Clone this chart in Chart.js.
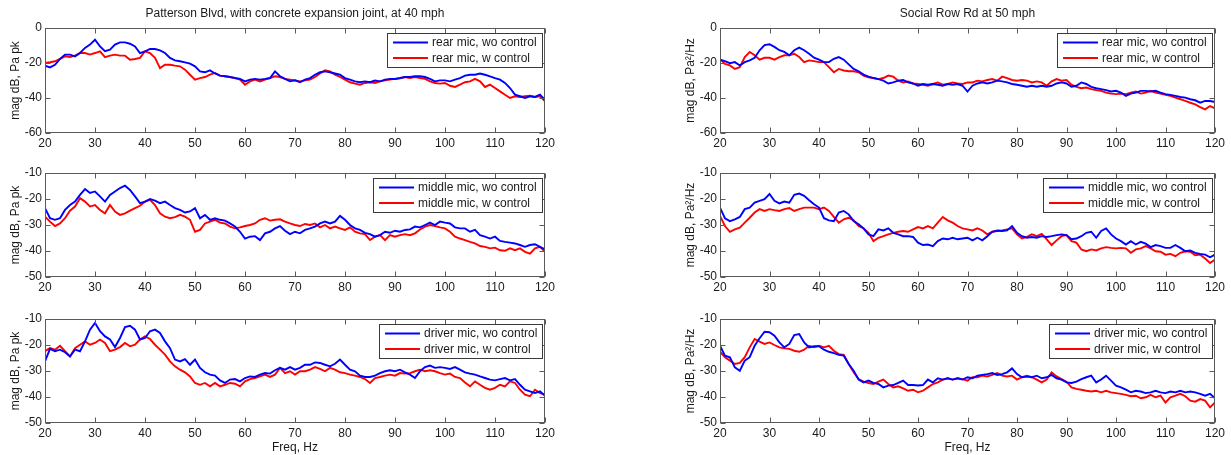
<!DOCTYPE html>
<html>
<head>
<meta charset="utf-8">
<title>Mic spectra, with and without control</title>
<script src="https://cdn.jsdelivr.net/npm/chart.js@4.4.1/dist/chart.umd.min.js"></script>
<style>
  html, body { margin: 0; padding: 0; background: #fff; }
  body { width: 1231px; height: 455px; position: relative; overflow: hidden; }
  .panel { position: absolute; }
</style>
</head>
<body>
<script>
// ─── Data (dB values, 1 Hz steps) ────────────────────────────────────────────

const FREQ_HZ = [
  20, 21, 22, 23, 24, 25, 26, 27, 28, 29, 30, 31, 32, 33, 34, 35, 36, 37, 38, 39,
  40, 41, 42, 43, 44, 45, 46, 47, 48, 49, 50, 51, 52, 53, 54, 55, 56, 57, 58, 59,
  60, 61, 62, 63, 64, 65, 66, 67, 68, 69, 70, 71, 72, 73, 74, 75, 76, 77, 78, 79,
  80, 81, 82, 83, 84, 85, 86, 87, 88, 89, 90, 91, 92, 93, 94, 95, 96, 97, 98, 99,
  100, 101, 102, 103, 104, 105, 106, 107, 108, 109, 110, 111, 112, 113, 114, 115, 116, 117, 118, 119, 120
];

const TITLE_LEFT  = 'Patterson Blvd, with concrete expansion joint, at 40 mph';
const TITLE_RIGHT = 'Social Row Rd at 50 mph';
const YLABEL_LEFT  = 'mag dB, Pa pk';
const YLABEL_RIGHT = 'mag dB, Pa\u00B2/Hz';
const XLABEL = 'Freq, Hz';

const NAMES_REAR   = ['rear mic, wo control', 'rear mic, w control'];
const NAMES_MIDDLE = ['middle mic, wo control', 'middle mic, w control'];
const NAMES_DRIVER = ['driver mic, wo control', 'driver mic, w control'];

// Patterson Blvd, 40 mph
const TL_BLUE = [
  -21.5, -22.5, -21, -17.7, -15.2, -15.2, -16.2, -14.3, -11.4, -9.5,
  -6.7, -10.5, -13.3, -12.4, -9.5, -8.2, -8.2, -9, -10.5, -14.3,
  -13.3, -12, -12, -12.8, -14.3, -17.1, -18.5, -19, -19.6, -20.4,
  -21.9, -24.8, -25.3, -24.2, -26, -27.2, -27.6, -28, -28.6, -29.1,
  -30.5, -29.5, -29.1, -29.5, -29.1, -28.6, -24.8, -27.6, -29.1, -30.5,
  -29.9, -31, -29.5, -28.6, -26.7, -25.3, -24.8, -25.3, -26, -26.7,
  -28.6, -29.5, -30.5, -31, -30.5, -31, -30, -30.5, -29.5, -29.1,
  -29.1, -28.6, -28, -28, -27.6, -27.6, -28, -29.1, -30.5, -29.9,
  -29.9, -30.5, -29.5, -28.6, -27.2, -26.7, -26.7, -26, -26.7, -27.6,
  -28.6, -29.5, -31.4, -34.3, -38.1, -39, -40, -39, -39.4, -38.1, -41
];
const TL_RED = [
  -20, -19.6, -19, -17.7, -16.2, -16.6, -15.8, -14.3, -14.3, -15.2,
  -14.3, -13.3, -16.6, -15.8, -15.2, -15.8, -15.8, -18.1, -17.7, -17.1,
  -13.3, -14.3, -17.1, -22.9, -21, -21, -21.5, -21.9, -23.8, -26.7,
  -29.5, -28.6, -28, -26.7, -25.7, -27.2, -27.6, -28, -28.6, -29.5,
  -32.4, -30.5, -29.5, -30.5, -29.5, -28.6, -27.6, -28, -29.1, -29.5,
  -29.9, -30.5, -29.9, -29.5, -28, -26, -24.2, -24.8, -26.7, -28,
  -29.5, -31, -31.8, -32.4, -31.4, -31, -31.4, -30.5, -29.9, -29.5,
  -29.1, -28.8, -28, -28.6, -28, -28.6, -29.1, -30.5, -31.4, -31.8,
  -31.4, -33, -33.7, -32.4, -31, -30.5, -29.1, -30.5, -33.7, -32.4,
  -34.3, -36.2, -38.1, -40, -39, -39.4, -39, -38.7, -39.4, -39, -41.9
];
const ML_BLUE = [
  -23.5, -27.4, -28, -27.4, -24.2, -22.3, -21, -18.4, -16.2, -17.7,
  -17.1, -19, -21, -18.4, -17.1, -15.8, -14.9, -16.5, -19, -21.6,
  -21, -20, -20.6, -21.6, -21, -22.3, -23.5, -24.2, -25.2, -24.8,
  -23.5, -27.4, -26.1, -28, -27.4, -28, -28.3, -29.4, -30.6, -32.6,
  -35.2, -34.5, -34.3, -35.8, -33.2, -32.6, -31.3, -30.4, -32.2, -33.5,
  -32.6, -33.2, -31.9, -31.3, -30.6, -29.4, -28.7, -29.4, -28.7, -26.5,
  -28, -30, -31.3, -31.9, -33, -33.5, -34.5, -33.9, -32.6, -33,
  -32.2, -32.6, -31.9, -31.7, -30.6, -30.9, -30, -29.1, -30, -28.7,
  -29.1, -29.4, -30.9, -31.3, -31.3, -32.6, -31.9, -33.9, -34.5, -35.2,
  -34.5, -36.1, -36.5, -36.8, -37.1, -37.7, -38.4, -37.7, -37.4, -38.4, -39.4
];
const ML_RED = [
  -26.8, -28.7, -30.4, -29.4, -27.4, -24.5, -22.9, -19.7, -21, -22.9,
  -22.3, -24.2, -25.5, -22.3, -24.8, -26.1, -25.5, -24.5, -23.5, -22.6,
  -21, -20.3, -22.3, -25.5, -26.8, -27.4, -27, -26.1, -26.8, -28,
  -32.6, -31.9, -29.4, -28.7, -28, -29.1, -29.4, -30.6, -31.3, -30.9,
  -30.4, -30, -29.4, -28, -27.4, -28.3, -28, -27.8, -28.7, -29.4,
  -30, -30.4, -29.6, -30, -29.4, -30.9, -30, -31.3, -30.6, -31.3,
  -31.9, -30.9, -32.6, -33.2, -33.5, -35.8, -34.5, -33.9, -35.8, -33.9,
  -34.5, -33.9, -33.5, -33.9, -33.2, -31.7, -30.6, -30, -30.4, -30.9,
  -31.3, -32.6, -34.5, -35.2, -35.8, -36.5, -37.1, -38.1, -38.4, -39,
  -38.7, -39.7, -39.9, -39, -39.7, -39, -40.3, -41, -39, -38.4, -40.3
];
const BL_BLUE = [
  -26.3, -21.5, -22.4, -21.8, -22.8, -24.4, -21.8, -22.4, -18.6, -14.1,
  -11.5, -14.7, -16.7, -17.9, -20.8, -17.3, -13.1, -12.6, -14.1, -17.9,
  -17.3, -14.7, -14.1, -15.4, -18.6, -21.2, -25.6, -26.3, -25.4, -27.6,
  -25.6, -28.8, -30.5, -31.4, -31.8, -33.6, -34.6, -33.3, -33.1, -34,
  -32.7, -32.1, -32.3, -31.4, -30.8, -31, -29.7, -28.8, -29.5, -28.5,
  -29.5, -28.8, -27.6, -27.6, -26.7, -26.9, -27.6, -28.2, -27.2, -25.6,
  -27.6, -29.5, -30.1, -31.8, -32.3, -32.3, -31.8, -30.8, -30.1, -29.7,
  -30.1, -29.5, -30.5, -31.4, -32.7, -30.1, -28.5, -27.9, -28.8, -28.5,
  -28.8, -29.2, -28.5, -29.5, -30.5, -31, -31.4, -32.1, -32.7, -33.3,
  -33.6, -33.1, -32.7, -33.6, -33.1, -35.3, -37.2, -37.8, -38.5, -37.8, -39.5
];
const BL_RED = [
  -22.4, -21.2, -21.8, -20.3, -22.4, -24.4, -21.2, -19.9, -18.6, -19.9,
  -19.2, -17.9, -19.2, -22.4, -21.8, -20.8, -19.2, -20.5, -19.9, -17.9,
  -16.7, -17.7, -19.9, -21.8, -23.7, -26.3, -28.2, -29.5, -30.5, -32.1,
  -34.6, -35.3, -34.6, -35.9, -34.6, -35.9, -35.3, -34.6, -34.9, -35.9,
  -34, -33.1, -32.7, -32.1, -31.4, -32.3, -31.4, -28.8, -30.8, -30.1,
  -31.4, -30.1, -30.1, -29.5, -28.5, -29.2, -30.1, -28.8, -29.5, -30.5,
  -30.8, -31.4, -31.8, -32.3, -33.1, -34.6, -32.7, -32.3, -31.8, -31.4,
  -31.8, -30.8, -31, -30.8, -30.1, -29.5, -30.1, -29.7, -30.1, -30.8,
  -31.4, -31, -32.3, -32.7, -34.4, -35.9, -34, -35.3, -36.5, -37.2,
  -36.5, -35.3, -35.9, -34, -34.6, -37.2, -39.1, -39.7, -37.2, -38.5, -39.1
];

// Social Row Rd, 50 mph
const TR_BLUE = [
  -18.1, -18.9, -20.1, -19.5, -21.4, -19.5, -18.5, -17, -12.7, -9.8,
  -9.3, -10.8, -12.7, -13.7, -15.6, -12.7, -11.2, -12.7, -14.7, -17,
  -18.1, -19.5, -19.5, -17.6, -16.6, -18.1, -20.8, -23.4, -24.7, -26.6,
  -27.8, -28.6, -29.2, -30.1, -31.7, -31.1, -30.1, -29.7, -31.1, -31.7,
  -33, -32, -32.4, -32, -32.4, -33, -32, -32.4, -32, -33,
  -36.3, -33, -31.7, -31.1, -31.7, -31.1, -30.1, -30.5, -31.1, -32,
  -32.4, -33, -33.6, -33, -33.6, -33, -33.6, -33, -31.7, -31.1,
  -31.7, -33.6, -33, -31.1, -32, -33.6, -34.4, -34.9, -35.5, -36.3,
  -35.9, -36.9, -38.8, -37.5, -36.9, -35.9, -35.9, -36.3, -35.9, -36.9,
  -37.8, -38.2, -38.8, -39.4, -39.8, -40.7, -41.3, -42.7, -41.7, -41.7, -42.3
];
const TR_RED = [
  -17.6, -20.5, -21.4, -23.4, -22.4, -16.6, -13.7, -15.6, -18.1, -17,
  -17, -18.1, -16.6, -15.6, -15.6, -14.7, -16.6, -19.5, -18.5, -18.9,
  -19.5, -19.5, -22.4, -25.3, -23.4, -24.3, -24.7, -24.7, -25.3, -27.2,
  -28.2, -28.6, -29.2, -28.6, -27.2, -27.8, -30.1, -31.1, -30.5, -31.7,
  -32, -32.4, -33, -32, -31.1, -32.4, -32, -31.1, -31.7, -32,
  -31.1, -31.1, -30.1, -30.5, -29.7, -29.2, -30.1, -27.8, -28.6, -29.7,
  -30.1, -29.7, -30.1, -31.1, -30.5, -31.1, -33, -30.5, -29.2, -30.1,
  -29.7, -32.4, -33.6, -34.4, -34, -34.9, -35.5, -35.9, -36.9, -37.5,
  -37.8, -37.5, -37.8, -36.9, -36.3, -37.5, -36.9, -35.9, -36.9, -37.5,
  -38.2, -38.8, -39.8, -40.7, -41.7, -42.7, -43.6, -45.2, -46.5, -44.6, -45.9
];
const MR_BLUE = [
  -23.3, -27.4, -28.5, -27.8, -26.9, -23.9, -23.3, -21.4, -20.7, -20.1,
  -18.1, -20.7, -21.7, -21, -21.4, -18.4, -17.9, -18.8, -20.5, -22,
  -23.3, -27.4, -28.2, -28.5, -25.2, -24.6, -25.9, -28.5, -29.7, -31.3,
  -33.6, -34.3, -31.7, -32.1, -31.3, -33, -33.6, -34.3, -34.3, -34.6,
  -36.8, -37.7, -37.5, -38.1, -36.2, -35.2, -35.5, -34.9, -35.5, -35.2,
  -34.9, -35.9, -34.9, -35.9, -34.3, -32.6, -32.1, -32.3, -32.1, -30.4,
  -33, -34.3, -34.9, -34.6, -34.9, -34.3, -34.6, -34.3, -33.9, -33.6,
  -33.9, -35.5, -35.2, -34.3, -33, -32.6, -34.9, -32.3, -31.3, -33.6,
  -35.2, -36.2, -37.5, -36.2, -37.5, -36.5, -37.2, -38.5, -37.7, -38.1,
  -38.8, -38.8, -37.7, -38.8, -40.1, -39.8, -40.7, -41.1, -41.4, -42.4, -41.4
];
const MR_RED = [
  -26.5, -30.4, -32.6, -31.7, -31, -29.1, -27.2, -25.2, -23.9, -24.6,
  -23.9, -24.3, -24.6, -23.9, -23.5, -24.6, -23.9, -23.3, -23.3, -23.3,
  -23.9, -23.3, -24.6, -26.9, -29.1, -27.8, -27.2, -28.2, -30.4, -31.3,
  -33, -36.2, -34.9, -34.3, -33.6, -33, -32.6, -32.3, -32.6, -31.7,
  -30.8, -31.3, -30.4, -31.3, -29.1, -26.9, -28.2, -29.1, -30.4, -31.3,
  -31.7, -32.1, -31.3, -32.1, -33.6, -32.6, -32.3, -32.1, -31.7, -31.3,
  -33.6, -35.2, -34.6, -33.6, -34.3, -33.4, -35.5, -37.7, -35.9, -34.3,
  -33.9, -36.2, -36.8, -39.4, -40.1, -39.4, -39.8, -39, -38.5, -38.8,
  -39, -38.8, -39, -40.7, -39.4, -39, -38.1, -39, -40.1, -40.3,
  -41.4, -41.1, -42, -40.7, -40.1, -40.3, -41.6, -41.4, -42.9, -44.6, -43.3
];
const BR_BLUE = [
  -20.3, -24.1, -24.7, -28.6, -29.9, -26, -24.7, -20.3, -17.4, -14.9,
  -15.1, -16.4, -19, -20.9, -19.6, -16.2, -15.8, -19, -20.9, -20.5,
  -20.5, -21.8, -22.6, -23.1, -23.8, -24.1, -27.3, -29.9, -33.3, -34.4,
  -33.7, -34.6, -35, -36.3, -35.6, -35.4, -34.6, -33.7, -35.4, -35.4,
  -35.6, -35.4, -33.3, -34.4, -32.8, -33.3, -32.8, -33.3, -32.8, -33.3,
  -32.4, -32.8, -31.8, -31.5, -31.2, -30.8, -31.5, -31.2, -30.5, -29,
  -31.2, -32.4, -32.1, -32.4, -31.8, -32.8, -32.4, -31.5, -32.8, -33.3,
  -34.4, -34.6, -34.1, -33.1, -32.4, -31.8, -34.4, -33.3, -31.8, -33.7,
  -35.6, -36.3, -37.2, -38.2, -37.6, -37.9, -38.5, -38.2, -37.6, -38.2,
  -38.5, -37.9, -38.2, -37.6, -38.2, -37.9, -38.2, -38.8, -39.5, -38.8, -40.5
];
const BR_RED = [
  -22.6, -24.7, -26, -27.3, -26.9, -24.7, -20.9, -17.7, -18.7, -19.6,
  -19, -20, -20.9, -21.3, -21.5, -22.2, -22.6, -21.8, -20.3, -20.9,
  -20.3, -20.9, -20.3, -22.2, -23.5, -23.8, -27.3, -30.5, -33.1, -34.1,
  -34.6, -35, -34.1, -33.3, -35, -36.3, -35.9, -36.7, -37.6, -37.2,
  -38.2, -37.6, -36.3, -35, -34.4, -33.3, -32.8, -33.3, -32.8, -33.1,
  -33.7, -32.4, -32.4, -31.8, -32.1, -31.5, -30.8, -31.8, -32.1, -31.8,
  -33.3, -32.4, -31.8, -32.4, -33.3, -34.4, -33.3, -30.5, -32.1, -33.1,
  -34.1, -36.3, -36.9, -37.2, -37.6, -37.9, -37.6, -38.2, -37.6, -38.2,
  -38.5, -38.8, -39.2, -39.7, -39.5, -40.5, -40.1, -39.2, -40.1, -39.5,
  -42.1, -40.1, -39.5, -38.8, -39.7, -41.4, -41.8, -40.8, -41.4, -44, -42.1
];

// ─── Style ───────────────────────────────────────────────────────────────────

const FONT_FAMILY = "'Liberation Sans', Arial, Helvetica, sans-serif";
const TEXT_COLOR  = '#1a1a1a';
const AXIS_COLOR  = '#5a5a5a';
const BLUE        = '#0000ff';
const RED         = '#ff0000';
const TICK_LEN    = 5;

// ─── Panel layout ────────────────────────────────────────────────────────────

const PANELS = [
  { left: 0,   top: 0,   width: 560, height: 153, padTop: 28, padRight: 15, title: TITLE_LEFT,  yLabel: YLABEL_LEFT,  yMin: -60, yMax: 0,   yStep: 20, xTitle: false, series: [TL_BLUE, TL_RED], names: NAMES_REAR },
  { left: 0,   top: 160, width: 560, height: 137, padTop: 13, padRight: 15, title: '',          yLabel: YLABEL_LEFT,  yMin: -50, yMax: -10, yStep: 10, xTitle: false, series: [ML_BLUE, ML_RED], names: NAMES_MIDDLE },
  { left: 0,   top: 306, width: 560, height: 149, padTop: 13, padRight: 15, title: '',          yLabel: YLABEL_LEFT,  yMin: -50, yMax: -10, yStep: 10, xTitle: true,  series: [BL_BLUE, BL_RED], names: NAMES_DRIVER },
  { left: 675, top: 0,   width: 556, height: 153, padTop: 28, padRight: 16, title: TITLE_RIGHT, yLabel: YLABEL_RIGHT, yMin: -60, yMax: 0,   yStep: 20, xTitle: false, series: [TR_BLUE, TR_RED], names: NAMES_REAR },
  { left: 675, top: 160, width: 556, height: 137, padTop: 13, padRight: 16, title: '',          yLabel: YLABEL_RIGHT, yMin: -50, yMax: -10, yStep: 10, xTitle: false, series: [MR_BLUE, MR_RED], names: NAMES_MIDDLE },
  { left: 675, top: 306, width: 556, height: 149, padTop: 13, padRight: 16, title: '',          yLabel: YLABEL_RIGHT, yMin: -50, yMax: -10, yStep: 10, xTitle: true,  series: [BR_BLUE, BR_RED], names: NAMES_DRIVER },
];

// ─── MATLAB-style axes: box, inward ticks, title, boxed legend ──────────────

const matlabAxes = {
  id: 'matlabAxes',
  afterDatasetsDraw(chart, args, opts) {
    const { ctx, chartArea: a } = chart;
    const xs = chart.scales.x, ys = chart.scales.y;
    ctx.save();

    // box + ticks on all four sides
    ctx.strokeStyle = AXIS_COLOR;
    ctx.lineWidth = 1;
    const L = Math.round(a.left) + 0.5, R = Math.round(a.right) - 0.5;
    const T = Math.round(a.top) + 0.5,  B = Math.round(a.bottom) - 0.5;
    ctx.strokeRect(L, T, R - L, B - T);
    ctx.beginPath();
    xs.ticks.forEach(t => {
      const px = Math.round(xs.getPixelForValue(t.value)) + 0.5;
      ctx.moveTo(px, B); ctx.lineTo(px, B - TICK_LEN);
      ctx.moveTo(px, T); ctx.lineTo(px, T + TICK_LEN);
    });
    ys.ticks.forEach(t => {
      const py = Math.round(ys.getPixelForValue(t.value)) + 0.5;
      ctx.moveTo(L, py); ctx.lineTo(L + TICK_LEN, py);
      ctx.moveTo(R, py); ctx.lineTo(R - TICK_LEN, py);
    });
    ctx.stroke();

    ctx.font = `12px ${FONT_FAMILY}`;
    ctx.fillStyle = TEXT_COLOR;

    // panel title, centred over the plot box
    if (opts.title) {
      ctx.textAlign = 'center';
      ctx.textBaseline = 'middle';
      ctx.fillText(opts.title, (a.left + a.right) / 2, a.top - 14);
    }

    // legend box in the upper right corner
    const sets = chart.data.datasets;
    const textW = Math.max(...sets.map(d => ctx.measureText(d.label).width));
    const w = Math.round(6 + 35 + 4 + textW + 5), h = 34;
    const bx = Math.round(a.right - 3.5 - w), by = Math.round(a.top + 5);
    ctx.fillStyle = '#fff';
    ctx.fillRect(bx, by, w, h);
    ctx.strokeStyle = '#3a3a3a';
    ctx.strokeRect(bx + 0.5, by + 0.5, w, h);
    sets.forEach((d, i) => {
      const ly = by + 9.5 + i * 15.5;
      ctx.strokeStyle = d.borderColor;
      ctx.lineWidth = 2;
      ctx.beginPath();
      ctx.moveTo(bx + 6, ly); ctx.lineTo(bx + 41, ly);
      ctx.stroke();
      ctx.fillStyle = TEXT_COLOR;
      ctx.textAlign = 'left';
      ctx.textBaseline = 'middle';
      ctx.fillText(d.label, bx + 45, ly + 0.5);
    });

    ctx.restore();
  }
};

// ─── Build charts ────────────────────────────────────────────────────────────

function makePanel(p) {
  const div = document.createElement('div');
  div.className = 'panel';
  Object.assign(div.style, { left: p.left + 'px', top: p.top + 'px', width: p.width + 'px', height: p.height + 'px' });
  const canvas = document.createElement('canvas');
  canvas.width = p.width;
  canvas.height = p.height;
  canvas.style.width = p.width + 'px';
  canvas.style.height = p.height + 'px';
  div.appendChild(canvas);
  document.body.appendChild(div);

  const tickFont = { family: FONT_FAMILY, size: 12 };
  const colors = [BLUE, RED];

  return new Chart(canvas, {
    type: 'line',
    data: {
      labels: FREQ_HZ,
      datasets: p.series.map((vals, i) => ({
        label: p.names[i],
        data: vals,
        borderColor: colors[i],
        backgroundColor: colors[i],
        borderWidth: 1.9,
        pointRadius: 0,
        tension: 0,
        fill: false,
      })),
    },
    options: {
      responsive: false,
      devicePixelRatio: 1,
      animation: false,
      events: [],
      layout: { padding: { top: p.padTop, right: p.padRight, left: 0, bottom: 0 } },
      plugins: {
        legend: { display: false },
        tooltip: { enabled: false },
        title: { display: false },
        matlabAxes: { title: p.title },
      },
      scales: {
        x: {
          type: 'linear',
          min: 20, max: 120,
          grid: { display: false, drawTicks: false },
          border: { display: false },
          ticks: { stepSize: 10, autoSkip: false, maxRotation: 0, padding: 3, color: TEXT_COLOR, font: tickFont },
          title: { display: p.xTitle, text: XLABEL, color: TEXT_COLOR, font: tickFont, padding: { top: 0, bottom: 0 } },
          afterFit: s => { s.height = p.xTitle ? 32 : 20; },
        },
        y: {
          min: p.yMin, max: p.yMax,
          grid: { display: false, drawTicks: false },
          border: { display: false },
          ticks: { stepSize: p.yStep, padding: 3, color: TEXT_COLOR, font: tickFont },
          title: { display: true, text: p.yLabel, color: TEXT_COLOR, font: tickFont, padding: { top: 8, bottom: 0 } },
          afterFit: s => { s.width = 45; },
        },
      },
    },
    plugins: [matlabAxes],
  });
}

PANELS.forEach(makePanel);
</script>
</body>
</html>
